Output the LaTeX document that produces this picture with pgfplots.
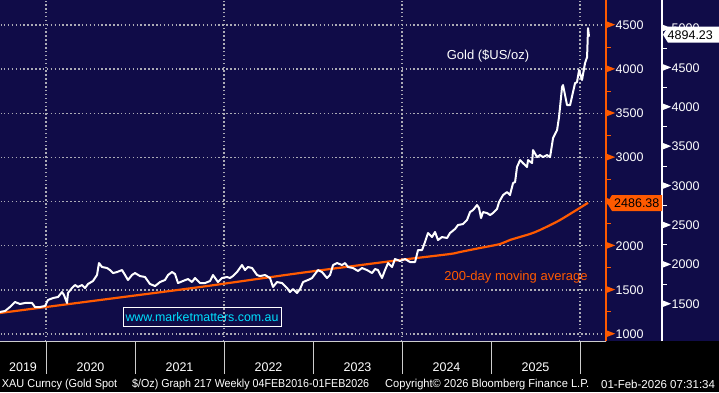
\documentclass[border=0pt]{standalone}
\usepackage{pgfplots}
\pgfplotsset{compat=1.18}
\usepackage{graphicx}
\usepackage{fontspec}
\setmainfont{Liberation Sans}
\definecolor{navy}{RGB}{16,12,72}
\definecolor{bbor}{RGB}{255,90,0}
\definecolor{gridc}{RGB}{172,172,182}
\definecolor{sepc}{RGB}{205,205,205}
\definecolor{cyanc}{RGB}{0,225,255}
\pgfplotsset{
  base/.style={at={(0pt,51pt)}, anchor=south west, scale only axis, height=341pt},
}
\begin{document}
\begin{tikzpicture}[x=1pt,y=1pt]
\useasboundingbox (0,0) rectangle (719,392);
\fill[black] (0,0) rectangle (719,392);
\fill[navy] (0,51) rectangle (719,392);

% grid
\begin{axis}[base, width=606pt,
  xmin=2019.483, xmax=2026.292, ymin=920.7, ymax=4783,
  axis line style={draw=navy},
  xtick={2020,2022,2024,2026}, ytick={1000,1500,...,4500},
  xticklabel=\empty, yticklabel=\empty,
  major tick length=1pt, tick align=inside,
  tick style={navy},
  xmajorgrids=true, ymajorgrids=true,
  grid style={gridc, line width=1.5pt, dash pattern=on 1.5pt off 2.4pt},
]
\end{axis}

% time axis
\begin{axis}[base, width=606pt,
  xmin=2019.483, xmax=2026.292, ymin=920.7, ymax=4783,
  axis x line=bottom, axis y line=none,
  x axis line style={draw=sepc, line width=1pt, -},
  xtick={2019.742,2020.5,2021.5,2022.5,2023.5,2024.5,2025.5},
  xticklabels={2019,2020,2021,2022,2023,2024,2025},
  minor xtick={2020,2021,2022,2023,2024,2025,2026},
  major tick length=0pt, minor tick length=33pt, tick align=outside,
  xtick style={draw=sepc, line width=1pt},
  xticklabel style={font=\fontsize{12.5}{14}\selectfont, text=white, anchor=center, yshift=-26pt, inner sep=0pt},
]
\end{axis}

% orange axis with 200 MA
\begin{axis}[base, width=606pt,
  xmin=2019.483, xmax=2026.292, ymin=920.7, ymax=4783,
  axis x line=none, axis y line=right,
  y axis line style={draw=bbor, line width=1.3pt, -},
  ytick={1000,1500,...,4500},
  minor y tick num=1,
  major tick length=0pt, minor tick length=4.5pt, tick align=outside,
  ytick style={draw=bbor, line width=1pt},
  yticklabel={\tikz[baseline={(0,-4.6pt)}]{\fill[bbor] (0,-3.5pt)--(9pt,0)--(0,3.5pt)--cycle;}\hspace{0.5pt}\pgfmathprintnumber[set thousands separator={}, assume math mode=true]{\tick}},
  yticklabel style={anchor=west, inner sep=0pt, xshift=0pt, text=white, font=\fontsize{12.5}{14}\selectfont},
]
\addplot[bbor, line width=2.2pt, smooth, tension=0.4] coordinates {
(2019.483,1238) (2020.607,1385) (2021.730,1532) (2022.854,1691) (2023.977,1838)
(2024.539,1906) (2024.652,1929) (2024.876,1974) (2025.101,2019) (2025.213,2065)
(2025.438,2133) (2025.550,2178) (2025.775,2291) (2026.090,2486)
};
\end{axis}

% white axis with gold
\begin{axis}[base, width=662pt,
  xmin=2019.483, xmax=2026.921, ymin=1030.3, ymax=5359.5,
  axis y line=right, axis x line=none,
  y axis line style={draw=white, line width=1.3pt, -},
  ytick={1500,2000,...,5000}, minor y tick num=1,
  major tick length=0pt, minor tick length=4.5pt, tick align=outside,
  ytick style={draw=white, line width=1pt},
  yticklabel={\tikz[baseline={(0,-4.6pt)}]{\fill[white] (0,-3.5pt)--(9pt,0)--(0,3.5pt)--cycle;}\hspace{0.5pt}\pgfmathprintnumber[set thousands separator={}, assume math mode=true]{\tick}},
  yticklabel style={anchor=west, inner sep=0pt, xshift=0pt, text=white, font=\fontsize{12.5}{14}\selectfont},
]
\addplot[white, line width=2pt, line join=round] coordinates {
(2019.483,1399) (2019.539,1411) (2019.595,1462) (2019.652,1525) (2019.708,1500) (2019.764,1513) (2019.843,1513) (2019.876,1462) (2019.932,1462) (2019.989,1475)
(2020.022,1551) (2020.079,1576) (2020.135,1589) (2020.180,1652) (2020.202,1614) (2020.236,1513) (2020.247,1640) (2020.292,1703) (2020.326,1741) (2020.359,1716)
(2020.404,1741) (2020.438,1703) (2020.472,1754) (2020.528,1792) (2020.573,1868) (2020.595,2020) (2020.629,1970) (2020.685,1957) (2020.719,1931) (2020.753,1893)
(2020.798,1906) (2020.854,1931) (2020.888,1868) (2020.921,1805) (2020.966,1868) (2021.000,1893) (2021.056,1855) (2021.112,1843) (2021.168,1754) (2021.225,1728)
(2021.281,1779) (2021.337,1805) (2021.371,1868) (2021.416,1906) (2021.449,1881) (2021.483,1766) (2021.539,1792) (2021.595,1817) (2021.640,1779) (2021.674,1830)
(2021.730,1766) (2021.786,1766) (2021.843,1792) (2021.876,1868) (2021.932,1779) (2021.977,1830) (2022.034,1843) (2022.067,1830) (2022.101,1855) (2022.146,1906)
(2022.202,1995) (2022.236,1931) (2022.270,1970) (2022.315,1957) (2022.371,1868) (2022.404,1855) (2022.461,1868) (2022.517,1830) (2022.550,1716) (2022.595,1779)
(2022.652,1766) (2022.708,1703) (2022.741,1652) (2022.775,1690) (2022.820,1640) (2022.854,1690) (2022.888,1779) (2022.944,1805) (2022.989,1830) (2023.056,1931)
(2023.101,1906) (2023.157,1830) (2023.191,1868) (2023.225,1995) (2023.270,2020) (2023.326,1995) (2023.359,2020) (2023.393,1970) (2023.449,1957) (2023.506,1919)
(2023.550,1957) (2023.607,1931) (2023.663,1893) (2023.697,1944) (2023.730,1931) (2023.775,1830) (2023.809,1931) (2023.843,2020) (2023.888,1970) (2023.921,2071)
(2023.977,2046) (2024.034,2071) (2024.090,2033) (2024.146,2033) (2024.180,2185) (2024.225,2185) (2024.258,2287) (2024.292,2401) (2024.337,2350) (2024.371,2414)
(2024.404,2312) (2024.449,2350) (2024.506,2338) (2024.539,2401) (2024.595,2452) (2024.629,2503) (2024.685,2515) (2024.730,2566) (2024.764,2667) (2024.798,2693)
(2024.843,2756) (2024.865,2718) (2024.888,2591) (2024.910,2667) (2024.955,2655) (2024.989,2629) (2025.022,2655) (2025.067,2706) (2025.090,2794) (2025.135,2883)
(2025.180,2921) (2025.213,2883) (2025.247,3035) (2025.270,3048) (2025.292,3239) (2025.326,3327) (2025.359,3289) (2025.404,3239) (2025.416,3327) (2025.461,3289)
(2025.472,3454) (2025.517,3365) (2025.550,3391) (2025.584,3365) (2025.629,3391) (2025.663,3365) (2025.697,3607) (2025.742,3708) (2025.764,3873) (2025.798,4254)
(2025.809,4279) (2025.854,4025) (2025.888,4025) (2025.921,4190) (2025.944,4304) (2025.966,4317) (2025.989,4469) (2026.022,4343) (2026.056,4558) (2026.079,4634)
(2026.090,5002) (2026.101,4894)
};
\end{axis}

% annotations
\node[text=white, font=\fontsize{13}{15}\selectfont] at (488,336) {Gold (\$US/oz)};
\node[text=bbor, font=\fontsize{13}{15}\selectfont] at (516,115) {200-day moving average};
\node[draw=white, line width=1pt, text=cyanc, font=\fontsize{12.4}{14}\selectfont, minimum width=158pt, minimum height=19pt, inner sep=0pt] at (202,75) {www.marketmatters.com.au};
% last value tags
\fill[white] (663,357.3)--(668,365.3)--(719,365.3)--(719,349.3)--(668,349.3)--cycle;
\node[text=black, anchor=west, inner sep=0pt, font=\fontsize{12.5}{14}\selectfont] at (667.5,357.3) {4894.23};
\fill[bbor] (607,189)--(612,197)--(662,197)--(662,181)--(612,181)--cycle;
\node[text=black, anchor=west, inner sep=0pt, font=\fontsize{12.5}{14}\selectfont] at (614,189) {2486.38};
% footer
\begin{scope}[every node/.style={text=white, anchor=west, inner sep=0pt, font=\fontsize{11.5}{13}\selectfont}]
\node at (1.7,7.5) {\scalebox{0.95}[1]{XAU Curncy (Gold Spot}};
\node at (132,7.5) {\scalebox{0.93}[1]{\$/Oz) Graph 217 Weekly 04FEB2016-01FEB2026}};
\node at (385,7.5) {\scalebox{0.965}[1]{Copyright© 2026 Bloomberg Finance L.P.}};
\node at (601,7.5) {01-Feb-2026 07:31:34};
\end{scope}
\end{tikzpicture}
\end{document}
